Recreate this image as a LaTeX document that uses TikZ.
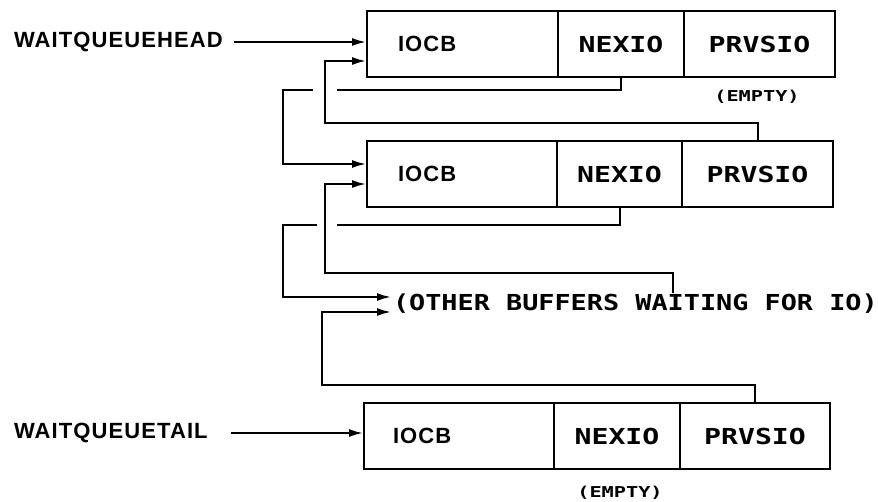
\documentclass[tikz,border=0pt]{standalone}
\usepackage{fontspec}
\newfontfamily\plainlbl{Liberation Sans}[LetterSpace=5]
\newfontfamily\typelbl{DejaVu Sans Mono}
\usetikzlibrary{arrows.meta}

\begin{document}
\begin{tikzpicture}[
    x=1pt, y=-1pt,
    line width=2pt,
    cell/.style={draw, minimum height=66pt, inner sep=0pt, anchor=north west,
                 font=\typelbl\bfseries\fontsize{22}{24}\selectfont
                      \addfontfeature{FakeStretch=1.28}},
    iocb/.style={cell, font=\plainlbl\bfseries\fontsize{22}{24}\selectfont,
                 text width=#1, align=left},
    lbl/.style={anchor=west, inner sep=0pt,
                font=\plainlbl\bfseries\fontsize{22}{24}\selectfont},
    note/.style={inner sep=0pt, font=\typelbl\bfseries\fontsize{15}{17}\selectfont
                      \addfontfeature{FakeStretch=1.35}},
    arr/.style={-{Latex[length=14pt, width=8pt]}}
  ]
  \useasboundingbox (0,0) rectangle (878,501);

  % queue entries
  \node[iocb=191pt] (iocbA) at (366,10) {\hspace*{31pt}IOCB};
  \node[cell, minimum width=126pt] (nexA) at (557,10) {NEXIO};
  \node[cell, minimum width=151pt] (prvA) at (683,10) {PRVSIO};

  \node[iocb=190pt] (iocbB) at (366,140) {\hspace*{31pt}IOCB};
  \node[cell, minimum width=125pt] (nexB) at (556,140) {NEXIO};
  \node[cell, minimum width=151pt] (prvB) at (681,140) {PRVSIO};

  \node[iocb=190pt] (iocbC) at (363,402) {\hspace*{29pt}IOCB};
  \node[cell, minimum width=126pt] (nexC) at (553,402) {NEXIO};
  \node[cell, minimum width=150pt] (prvC) at (679,402) {PRVSIO};

  \node[note] (emptyA) at (757,97) {(EMPTY)};
  \node[note] (emptyC) at (620,493) {(EMPTY)};

  \node[lbl] (headlbl) at (13,42) {WAITQUEUEHEAD};
  \node[lbl] (taillbl) at (13,433) {WAITQUEUETAIL};
  \node[anchor=west, inner xsep=1pt, inner ysep=0pt,
        font=\typelbl\bfseries\fontsize{22}{24}\selectfont
             \addfontfeature{FakeStretch=1.22}]
        (other) at (391,304) {(OTHER BUFFERS WAITING FOR IO)};

  % bends of the links
  \coordinate (crossA) at (325,90);
  \coordinate (crossB) at (327,225);
  \coordinate (outA) at (283,90);
  \coordinate (outB) at (283,225);
  \coordinate (inA) at (325,123);
  \coordinate (inB) at (325,273);
  \coordinate (inC) at (322,385);
  \coordinate (othTop) at (673,293);

  \draw[arr, shorten <=10pt] (headlbl.east) -- (headlbl.east -| iocbA.west);
  \draw[arr, shorten <=22pt] (taillbl.east) -- (taillbl.east -| iocbC.west);

  \draw (nexA.south) |- ([xshift=12pt]crossA);
  \draw[arr] ([xshift=-12pt]crossA) -- (outA) |- ([yshift=10pt]iocbB.west);
  \draw[arr] (prvB.north) |- (inA) |- ([yshift=-17pt]iocbA.west);

  \draw (nexB.south) |- ([xshift=10pt]crossB);
  \draw[arr] ([xshift=-10pt]crossB) -- (outB) |- ([yshift=7pt]other.west);
  \draw[arr] (othTop) |- (inB) |- ([yshift=-10pt]iocbB.west);

  \draw[arr] (prvC.north) |- (inC) |- ([yshift=-8pt]other.west);
\end{tikzpicture}
\end{document}
